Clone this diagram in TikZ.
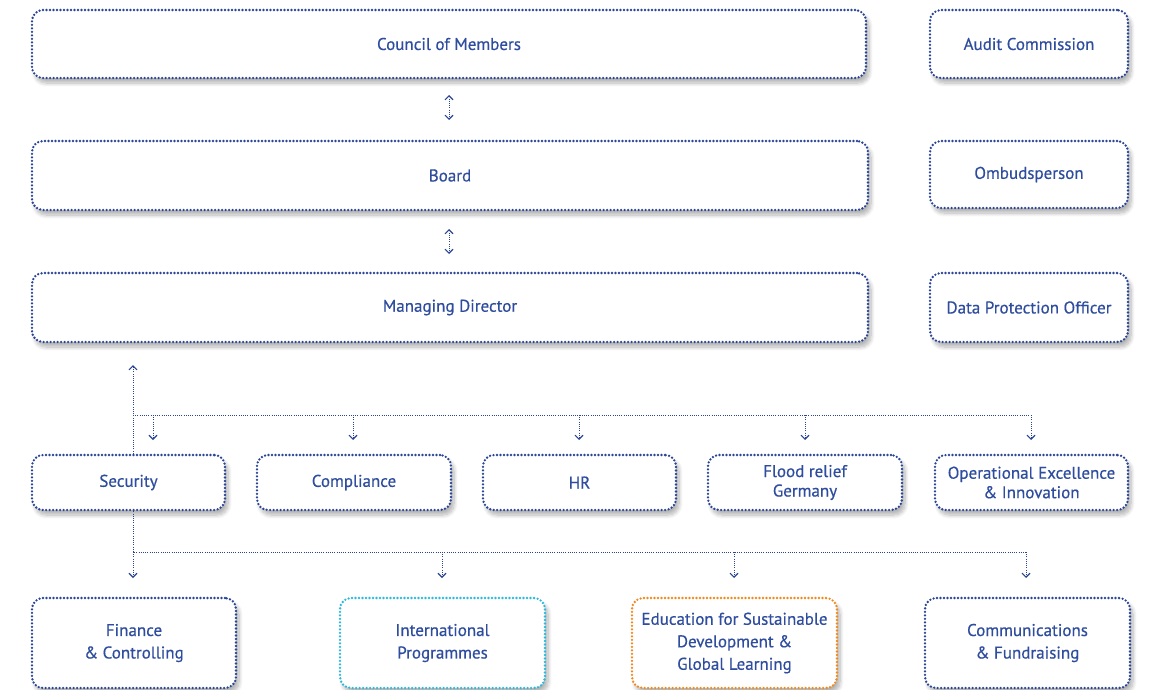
\documentclass[tikz,border=0pt]{standalone}
\usepackage{fontspec}
\setmainfont{PT Sans}[FakeBold=0.5]
\usetikzlibrary{arrows.meta,shadows.blur}
\definecolor{navy}{HTML}{2A4595}
\definecolor{txtblue}{HTML}{2F4D9E}
\definecolor{cyanb}{HTML}{2DB8DC}
\definecolor{orangeb}{HTML}{F08A1E}
\tikzset{
  orgbox/.style={draw=navy, line width=2.6pt, line cap=round, dash pattern=on 0pt off 3.5pt,
    rounded corners=11pt, fill=white, text=txtblue, font=\fontsize{17}{22.5}\selectfont,
    align=center, inner sep=0pt,
    blur shadow={shadow xshift=3pt, shadow yshift=-5pt, shadow blur steps=8, shadow opacity=30, shadow blur radius=4pt}},
  conn/.style={draw=navy, line width=1pt, dash pattern=on 1pt off 1.2pt},
  tip/.style={-{Straight Barb[length=4pt,width=8pt,line width=1.1pt]}},
  dtip/.style={{Straight Barb[length=4pt,width=8pt,line width=1.1pt]}-{Straight Barb[length=4pt,width=8pt,line width=1.1pt]}},
}
\begin{document}
\begin{tikzpicture}[x=1pt,y=-1pt]
\useasboundingbox (0,0) rectangle (1161,690);
% top boxes
\node[orgbox, minimum width=834pt, minimum height=68pt] (council) at (449,44) {Council of Members};
\node[orgbox, minimum width=198pt, minimum height=68pt] (audit) at (1029,44) {Audit Commission};
\node[orgbox, minimum width=836pt, minimum height=69pt] (board) at (450,175.5) {Board};
\node[orgbox, minimum width=198pt, minimum height=67pt] (ombud) at (1029,174.5) {Ombudsperson};
\node[orgbox, minimum width=836pt, minimum height=69pt] (md) at (450,307.5) {Managing Director};
\node[orgbox, minimum width=198pt, minimum height=69pt] (dpo) at (1029,307.5) {Data Protection Officer};
% middle row
\node[orgbox, minimum width=193pt, minimum height=55pt] (sec) at (128.5,482.5) {Security};
\node[orgbox, minimum width=194pt, minimum height=55pt] (comp) at (354,482.5) {Compliance};
\node[orgbox, minimum width=193pt, minimum height=55pt] (hr) at (579.5,482.5) {HR};
\node[orgbox, minimum width=194pt, minimum height=55pt] (flood) at (805,482.5) {Flood relief\\[-3pt]Germany};
\node[orgbox, minimum width=193pt, minimum height=55pt] (opex) at (1031.5,482.5) {Operational Excellence\\[-3pt]\& Innovation};
% bottom row
\node[orgbox, minimum width=204pt, minimum height=90pt] (fin) at (134,643) {Finance\\\& Controlling};
\node[orgbox, draw=cyanb, minimum width=205pt, minimum height=90pt] (intl) at (442.5,643) {International\\Programmes};
\node[orgbox, draw=orangeb, minimum width=205pt, minimum height=90pt] (edu) at (734.5,643) {Education for Sustainable\\Development \&\\Global Learning};
\node[orgbox, minimum width=205pt, minimum height=90pt] (comm) at (1027.5,643) {Communications\\\& Fundraising};
% double arrows
\coordinate (a1t) at (449,95); \coordinate (a1b) at (449,120);
\coordinate (a2t) at (449,229); \coordinate (a2b) at (449,254);
\draw[conn,dtip] (a1t) -- (a1b);
\draw[conn,dtip] (a2t) -- (a2b);
% up arrow from security
\coordinate (up) at (133,365);
\coordinate (hl) at (133,415);
\draw[conn,tip] (sec.north -| up) -- (up);
\coordinate (hr1) at (1032,415);
\draw[conn] (hl) -- (hr1);
\foreach \x in {153,353,579,805,1031}{
  \draw[conn,tip] (\x,415) -- (\x,440);
}
% bottom distribution
\coordinate (bl) at (133,552);
\coordinate (br) at (1026,552);
\draw[conn] (sec.south -| bl) -- (bl) -- (br);
\draw[conn,tip] (bl) -- (133,578);
\foreach \x in {442,734,1026}{
  \draw[conn,tip] (\x,552) -- (\x,578);
}
\end{tikzpicture}
\end{document}
